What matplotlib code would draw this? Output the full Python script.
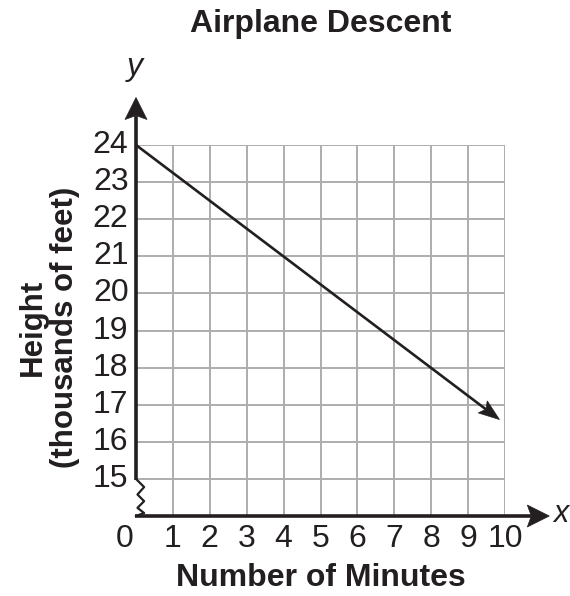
import matplotlib
matplotlib.use("Agg")
import numpy as np
import matplotlib.pyplot as plt
from matplotlib.patches import Polygon
from matplotlib.transforms import IdentityTransform

plt.rcParams['font.family'] = ['Liberation Sans', 'DejaVu Sans']

title = "Airplane Descent"
x_label = "Number of Minutes"
y_label = "Height\n(thousands of feet)"
x_ticks = [0, 1, 2, 3, 4, 5, 6, 7, 8, 9, 10]
y_ticks = [15, 16, 17, 18, 19, 20, 21, 22, 23, 24]
line_x = [0, 9.85]
line_y = [24, 16.6]

INK = '#231f20'

fig = plt.figure(figsize=(5.70, 5.96), dpi=100)
ax = fig.add_axes([0.2386, 0.1342, 0.6474, 0.6225])
ax.set_xlim(0, 10)
ax.set_ylim(14, 24)
ax.axis('off')


def arrow_line(x0, y0, x1, y1, lw, head_len, head_w, notch):
    """Line from (x0, y0) to (x1, y1) ending in a notched arrowhead (sizes in px)."""
    p0 = ax.transData.transform((x0, y0))
    p1 = ax.transData.transform((x1, y1))
    d = (p1 - p0) / np.hypot(*(p1 - p0))
    n = np.array([-d[1], d[0]])
    base = p1 - d * head_len
    head = [p1, base + n * head_w / 2, base + d * notch, base - n * head_w / 2]
    stop = base + d * notch
    ax.plot([p0[0], stop[0]], [p0[1], stop[1]], color=INK, lw=lw,
            transform=IdentityTransform(), clip_on=False, zorder=4,
            solid_capstyle='butt')
    ax.add_patch(Polygon(head, closed=True, facecolor=INK, edgecolor=INK, lw=0.5,
                         transform=IdentityTransform(), clip_on=False, zorder=5))


grid_kw = dict(color='#adadad', lw=1.4, zorder=1)
for xv in x_ticks[1:]:
    ax.plot([xv, xv], [14, 24], **grid_kw)
for yv in y_ticks:
    ax.plot([0, 10], [yv, yv], **grid_kw)

# axes with arrowheads
arrow_line(0, 14.98, 0, 25.28, lw=2.6, head_len=22, head_w=22, notch=4)
arrow_line(-0.03, 14, 11.2, 14, lw=2.6, head_len=22, head_w=22, notch=4)
# axis break
ax.plot([0, 0.22, 0.04, 0.22, 0.04, 0.22, 0],
        [15, 14.78, 14.58, 14.4, 14.22, 14.08, 14],
        color=INK, lw=1.6, clip_on=False, zorder=3)

# descent line
arrow_line(line_x[0], line_y[0], line_x[1], line_y[1], lw=1.9,
           head_len=21, head_w=15, notch=4)

fs = 23
for yv in y_ticks:
    ax.text(-0.2, yv, str(yv), ha='right', va='center', fontsize=fs, color=INK)
for xv in x_ticks:
    xp = xv - 0.31 if xv == 0 else xv
    ax.text(xp, 13.38, str(xv), ha='center', va='center', fontsize=fs, color=INK)

ax.text(-0.02, 26.1, 'y', ha='center', va='center', fontsize=fs, style='italic', color=INK)
ax.text(11.5, 14.05, 'x', ha='center', va='center', fontsize=22, style='italic', color=INK)

fig.text(0.563, 0.960, title, ha='center', va='center', fontsize=23, fontweight='bold', color=INK)
fig.text(0.563, 0.030, x_label, ha='center', va='center', fontsize=23, fontweight='bold', color=INK)
fig.text(0.086, 0.450, y_label, ha='center', va='center', rotation=90, fontsize=22.5,
         fontweight='bold', color=INK, linespacing=1.1)

fig.savefig('out.png', dpi=100)
